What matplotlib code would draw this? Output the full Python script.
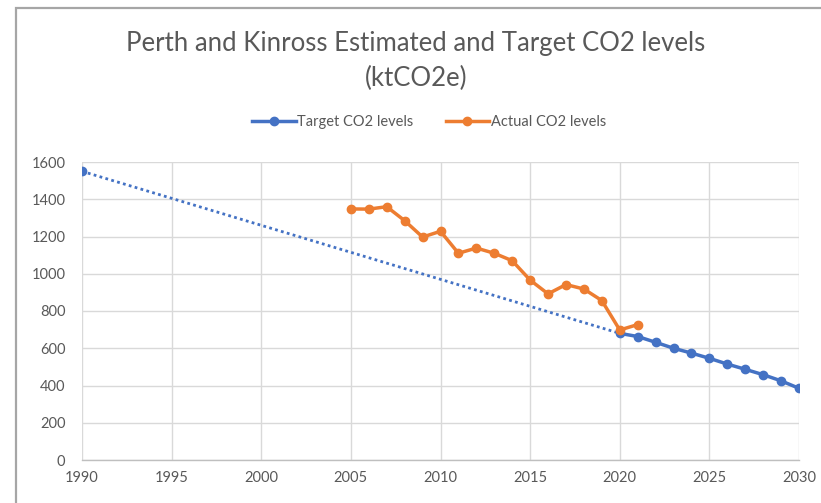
import matplotlib
matplotlib.use("Agg")
import matplotlib.pyplot as plt
from matplotlib.patches import Rectangle
from matplotlib.lines import Line2D

# Data
target_years = [1990, 2020, 2021, 2022, 2023, 2024, 2025, 2026, 2027, 2028, 2029, 2030]
target_values = [1550, 680, 663, 632, 600, 574, 546, 515, 487, 458, 425, 385]

actual_years = list(range(2005, 2022))
actual_values = [1348, 1347, 1360, 1285, 1197, 1228, 1110, 1138, 1110, 1070,
                 966, 892, 942, 918, 856, 698, 727]

x_ticks = [1990, 1995, 2000, 2005, 2010, 2015, 2020, 2025, 2030]
y_ticks = [0, 200, 400, 600, 800, 1000, 1200, 1400, 1600]

title = "Perth and Kinross Estimated and Target CO2 levels\n(ktCO2e)"
labels = ["Target CO2 levels", "Actual CO2 levels"]

blue = "#4472C4"
orange = "#ED7D31"
txt = "#595959"
grid = "#d9d9d9"

plt.rcParams['font.family'] = ['Lato', 'DejaVu Sans']

W, H = 821, 503
fig = plt.figure(figsize=(W / 100, H / 100), dpi=100)
ax = fig.add_axes([82 / W, 1 - 460 / H, (799 - 82) / W, (460 - 162) / H])

# outer frame
fig.patches.append(Rectangle((16 / W, -0.1), 1.2, 1 - 8 / H + 0.1,
                             transform=fig.transFigure, fill=False,
                             edgecolor="#a6a6a6", linewidth=1.6))

# Target: dotted segment then solid with markers
ax.plot(target_years[:2], target_values[:2], linestyle=(0, (1, 1.2)), color=blue,
        linewidth=2.0, zorder=3)
ax.plot(target_years[:1], target_values[:1], 'o', color=blue, markersize=6, zorder=4)
ax.plot(target_years[1:], target_values[1:], '-o', color=blue, linewidth=2.5,
        markersize=6, zorder=4)
ax.plot(actual_years, actual_values, '-o', color=orange, linewidth=2.5,
        markersize=6, zorder=5)

ax.set_xlim(1990, 2030)
ax.set_ylim(0, 1600)
ax.set_xticks(x_ticks)
ax.set_yticks(y_ticks)
ax.grid(True, color=grid, linewidth=1, zorder=0)
ax.set_axisbelow(True)
for s in ['top', 'right', 'left']:
    ax.spines[s].set_visible(False)
ax.spines['bottom'].set_color("#bfbfbf")
ax.spines['bottom'].set_linewidth(1)
ax.tick_params(length=0, labelsize=10.5, labelcolor=txt)
ax.tick_params(axis='x', pad=8)
ax.tick_params(axis='y', pad=12)

fig.text(416 / W, 1 - 61 / H, title, ha='center', va='center', fontsize=18.5,
         color=txt, linespacing=1.5)

handles = [Line2D([0], [0], color=blue, marker='o', linewidth=2.5, markersize=6),
           Line2D([0], [0], color=orange, marker='o', linewidth=2.5, markersize=6)]
fig.legend(handles, labels, loc='center', bbox_to_anchor=(429 / W, 1 - 122 / H),
           ncol=2, frameon=False, fontsize=10.5, labelcolor=txt, handlelength=3.0,
           handletextpad=0.1, columnspacing=2.2)

fig.savefig("out.png", dpi=100)
